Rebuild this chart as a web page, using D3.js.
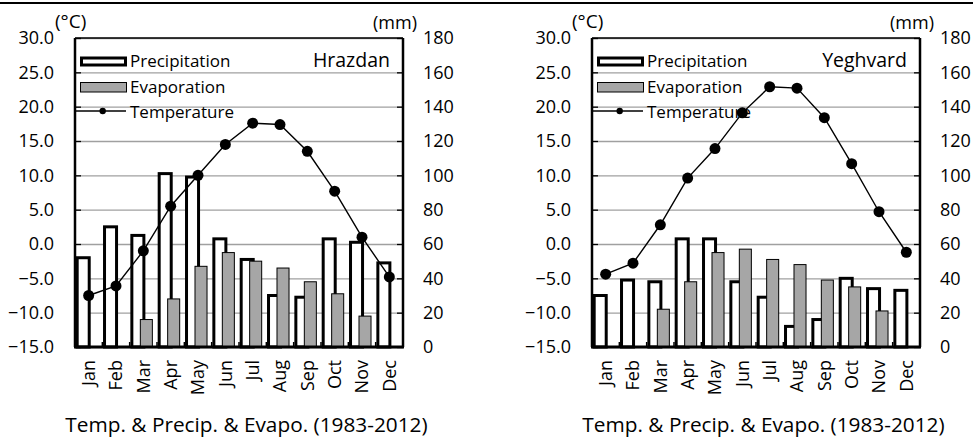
<!DOCTYPE html>
<html>
<head>
<meta charset="utf-8">
<script src="https://cdn.jsdelivr.net/npm/d3@7"></script>
<style>
  body { margin: 0; background: #fff; }
  text { font-family: "Open Sans", "Noto Sans", sans-serif; fill: #000; }
</style>
</head>
<body>
<script>
// data

var months = ["Jan", "Feb", "Mar", "Apr", "May", "Jun", "Jul", "Aug", "Sep", "Oct", "Nov", "Dec"];

var tempTicks = [-15, -10, -5, 0, 5, 10, 15, 20, 25, 30];
var mmTicks = [0, 20, 40, 60, 80, 100, 120, 140, 160, 180];

var hrazdanPrecip = [52, 70, 65, 101, 99, 63, 51, 30, 29, 63, 61, 49];
var hrazdanEvap = [0, 0, 16, 28, 47, 55, 50, 46, 38, 31, 18, 0];
var hrazdanTemp = [-7.5, -6.1, -1.0, 5.5, 10.0, 14.5, 17.6, 17.4, 13.5, 7.7, 1.0, -4.8];

var yeghvardPrecip = [30, 39, 38, 63, 63, 38, 29, 12, 16, 40, 34, 33];
var yeghvardEvap = [0, 0, 22, 38, 55, 57, 51, 48, 39, 35, 21, 0];
var yeghvardTemp = [-4.4, -2.8, 2.8, 9.6, 13.9, 19.1, 22.9, 22.7, 18.4, 11.7, 4.7, -1.2];

var titleText = "Temp. & Precip. & Evapo. (1983-2012)";

var W = 975, H = 443;
var plotW = 328, plotTop = 38, plotBottom = 347;
var font = '"Open Sans", sans-serif';

var svg = d3.select("body").append("svg")
    .attr("width", W)
    .attr("height", H);

// thick rule across the top
svg.append("line")
    .attr("x1", 0).attr("x2", 973)
    .attr("y1", 3).attr("y2", 3)
    .attr("stroke", "#000").attr("stroke-width", 2);

function drawPanel(x0, name, precip, evap, temp) {
    var g = svg.append("g");

    var x = d3.scaleBand()
        .domain(months)
        .range([x0, x0 + plotW]);
    var bw = x.bandwidth();

    var yT = d3.scaleLinear().domain([-15, 30]).range([plotBottom, plotTop]);
    var yP = d3.scaleLinear().domain([0, 180]).range([plotBottom, plotTop]);

    // gridlines
    g.append("g")
        .attr("transform", "translate(" + x0 + ",0)")
        .call(d3.axisLeft(yT).tickValues(tempTicks).tickSize(-plotW).tickFormat(""))
        .call(function(s) {
            s.select(".domain").remove();
            s.selectAll(".tick line").attr("stroke", "#a0a0a0").attr("stroke-width", 1.3);
        });

    // left axis
    g.append("g")
        .attr("transform", "translate(" + x0 + ",0)")
        .call(d3.axisLeft(yT).tickValues(tempTicks).tickSize(-6).tickPadding(21).tickFormat(d3.format(".1f")))
        .call(function(s) {
            s.select(".domain").remove();
            s.selectAll(".tick line").attr("stroke", "#000").attr("stroke-width", 1.3);
            s.selectAll(".tick text").attr("font-size", "18px").style("font-family", font);
        });

    // right axis
    g.append("g")
        .attr("transform", "translate(" + (x0 + plotW) + ",0)")
        .call(d3.axisRight(yP).tickValues(mmTicks).tickSize(-6).tickPadding(20))
        .call(function(s) {
            s.select(".domain").remove();
            s.selectAll(".tick line").attr("stroke", "#000").attr("stroke-width", 1.3);
            s.selectAll(".tick text").attr("font-size", "18px").style("font-family", font);
        });

    // unit labels
    g.append("text")
        .attr("x", x0 - 20).attr("y", 28)
        .attr("font-size", "19px")
        .text("(\u00B0C)");
    g.append("text")
        .attr("x", x0 + plotW - 30).attr("y", 29)
        .attr("font-size", "18px")
        .text("(mm)");

    // precipitation bars
    g.append("g").selectAll("rect")
        .data(months)
        .enter().append("rect")
        .attr("x", function(d) { return x(d) + bw * 0.08; })
        .attr("width", bw * 0.44)
        .attr("y", function(d, i) { return yP(precip[i]); })
        .attr("height", function(d, i) { return yP(0) - yP(precip[i]); })
        .attr("fill", "#fff")
        .attr("stroke", "#000")
        .attr("stroke-width", 3);

    // evaporation bars
    g.append("g").selectAll("rect")
        .data(months.filter(function(d, i) { return evap[i] > 0; }))
        .enter().append("rect")
        .attr("x", function(d) { return x(d) + bw * 0.39; })
        .attr("width", bw * 0.44)
        .attr("y", function(d) { return yP(evap[months.indexOf(d)]); })
        .attr("height", function(d) { return yP(0) - yP(evap[months.indexOf(d)]); })
        .attr("fill", "#a6a6a6")
        .attr("stroke", "#000")
        .attr("stroke-width", 1);

    // frame
    g.append("line")
        .attr("x1", x0).attr("x2", x0 + plotW)
        .attr("y1", plotTop).attr("y2", plotTop)
        .attr("stroke", "#000").attr("stroke-width", 1.5);
    g.append("line")
        .attr("x1", x0).attr("x2", x0)
        .attr("y1", plotTop).attr("y2", plotBottom)
        .attr("stroke", "#000").attr("stroke-width", 2.5);
    g.append("line")
        .attr("x1", x0 + plotW).attr("x2", x0 + plotW)
        .attr("y1", plotTop).attr("y2", plotBottom)
        .attr("stroke", "#000").attr("stroke-width", 2.5);

    // bottom axis with month labels
    g.append("g")
        .attr("transform", "translate(0," + plotBottom + ")")
        .call(d3.axisBottom(x).tickSize(0))
        .call(function(s) {
            s.select(".domain").remove();
            s.selectAll(".tick text")
                .attr("transform", "rotate(-90)")
                .attr("x", -13)
                .attr("y", 0)
                .attr("dy", "0.35em")
                .attr("text-anchor", "end")
                .attr("font-size", "18px")
                .style("font-family", font);
        });
    g.append("g").selectAll("line")
        .data(months.slice(1))
        .enter().append("line")
        .attr("x1", function(d) { return x(d); })
        .attr("x2", function(d) { return x(d); })
        .attr("y1", plotBottom).attr("y2", plotBottom - 5)
        .attr("stroke", "#000").attr("stroke-width", 1.5);
    g.append("line")
        .attr("x1", x0 - 1).attr("x2", x0 + plotW + 1)
        .attr("y1", plotBottom).attr("y2", plotBottom)
        .attr("stroke", "#000").attr("stroke-width", 3);

    // legend
    var lg = g.append("g");
    lg.append("rect")
        .attr("x", x0 + 6.5).attr("y", 58)
        .attr("width", 44).attr("height", 7)
        .attr("fill", "#fff").attr("stroke", "#000").attr("stroke-width", 3);
    lg.append("text")
        .attr("x", x0 + 55).attr("y", 66.5)
        .attr("font-size", "17px")
        .text("Precipitation");
    lg.append("rect")
        .attr("x", x0 + 5.5).attr("y", 82.5)
        .attr("width", 46).attr("height", 9.5)
        .attr("fill", "#a6a6a6").attr("stroke", "#000").attr("stroke-width", 1);
    lg.append("text")
        .attr("x", x0 + 55).attr("y", 92.5)
        .attr("font-size", "17px")
        .text("Evaporation");
    lg.append("line")
        .attr("x1", x0 + 1).attr("x2", x0 + 51)
        .attr("y1", 111).attr("y2", 111)
        .attr("stroke", "#000").attr("stroke-width", 1.3);
    lg.append("circle")
        .attr("cx", x0 + 27.7).attr("cy", 111).attr("r", 3.2)
        .attr("fill", "#000");
    lg.append("text")
        .attr("x", x0 + 55).attr("y", 118)
        .attr("font-size", "17px")
        .text("Temperature");
    lg.append("text")
        .attr("x", x0 + plotW - 13).attr("y", 67)
        .attr("text-anchor", "end")
        .attr("font-size", "19.5px")
        .text(name);

    // temperature line
    var line = d3.line()
        .x(function(d, i) { return x(months[i]) + bw / 2; })
        .y(function(d) { return yT(d); });

    g.append("path")
        .datum(temp)
        .attr("d", line)
        .attr("fill", "none")
        .attr("stroke", "#000")
        .attr("stroke-width", 1.4);

    g.append("g").selectAll("circle")
        .data(temp)
        .enter().append("circle")
        .attr("cx", function(d, i) { return x(months[i]) + bw / 2; })
        .attr("cy", function(d) { return yT(d); })
        .attr("r", 5.5)
        .attr("fill", "#000");

    // caption
    g.append("text")
        .attr("x", x0 + plotW / 2 + 7.5).attr("y", 431.5)
        .attr("text-anchor", "middle")
        .attr("font-size", "20.8px")
        .text(titleText);
}

drawPanel(75, "Hrazdan", hrazdanPrecip, hrazdanEvap, hrazdanTemp);
drawPanel(592, "Yeghvard", yeghvardPrecip, yeghvardEvap, yeghvardTemp);
</script>
</body>
</html>
